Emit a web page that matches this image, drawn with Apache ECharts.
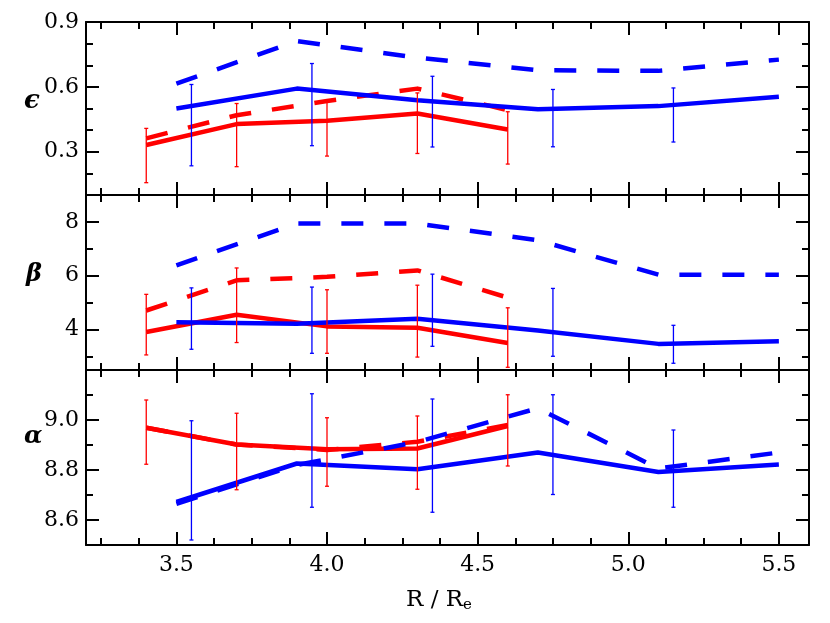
<!DOCTYPE html>
<html>
<head>
<meta charset="utf-8">
<script src="https://cdn.jsdelivr.net/npm/echarts@6/dist/echarts.min.js"></script>
<style>html,body{margin:0;padding:0;background:#fff;}#c{width:830px;height:623px;}</style>
</head>
<body>
<div id="c"></div>
<script>
// ---- data ----
const xRed = [3.4, 3.7, 4.0, 4.3, 4.6];
const xBlue = [3.5, 3.9, 4.3, 4.7, 5.1, 5.5];
const xBlueErr = [3.55, 3.95, 4.35, 4.75, 5.15];

const epsRedSolid = [0.331, 0.428, 0.443, 0.477, 0.403];
const epsRedDashed = [0.362, 0.469, 0.535, 0.592, 0.492];
const epsRedErrLow = [0.157, 0.231, 0.280, 0.292, 0.243];
const epsRedErrHigh = [0.408, 0.523, 0.531, 0.572, 0.485];
const epsBlueSolid = [0.500, 0.592, 0.538, 0.497, 0.511, 0.554];
const epsBlueDashed = [0.615, 0.812, 0.735, 0.677, 0.674, 0.726];
const epsBlueErrLow = [0.235, 0.328, 0.322, 0.323, 0.345];
const epsBlueErrHigh = [0.611, 0.708, 0.649, 0.588, 0.595];

const betaRedSolid = [3.91, 4.55, 4.12, 4.07, 3.50];
const betaRedDashed = [4.71, 5.83, 5.96, 6.20, 5.19];
const betaRedErrLow = [3.06, 3.52, 3.12, 2.98, 2.60];
const betaRedErrHigh = [5.31, 6.29, 5.48, 5.65, 4.81];
const betaBlueSolid = [4.27, 4.22, 4.40, 3.97, 3.47, 3.57];
const betaBlueDashed = [6.39, 7.94, 7.94, 7.32, 6.04, 6.04];
const betaBlueErrLow = [3.27, 3.12, 3.38, 3.01, 2.75];
const betaBlueErrHigh = [5.55, 5.58, 6.06, 5.53, 4.16];

const alphaRedSolid = [8.969, 8.902, 8.883, 8.886, 8.976];
const alphaRedDashed = [8.969, 8.902, 8.880, 8.913, 8.980];
const alphaRedErrLow = [8.823, 8.721, 8.735, 8.723, 8.816];
const alphaRedErrHigh = [9.080, 9.027, 9.009, 9.016, 9.101];
const alphaBlueSolid = [8.672, 8.826, 8.803, 8.870, 8.792, 8.822];
const alphaBlueDashed = [8.665, 8.820, 8.912, 9.047, 8.806, 8.870];
const alphaBlueErrLow = [8.520, 8.651, 8.631, 8.702, 8.651];
const alphaBlueErrHigh = [8.997, 9.105, 9.084, 9.101, 8.960];

// ---- ticks ----
const xMajorTicks = [3.5, 4.0, 4.5, 5.0, 5.5];
const xMinorTicks = [3.25, 3.375, 3.625, 3.75, 3.875, 4.125, 4.25, 4.375, 4.625, 4.75, 4.875, 5.125, 5.25, 5.375];
const epsMajorTicks = [0.3, 0.6, 0.9];
const epsMinorTicks = [0.2, 0.4, 0.5, 0.7, 0.8];
const betaMajorTicks = [4, 6, 8];
const betaMinorTicks = [3, 5, 7];
const alphaMajorTicks = [8.6, 8.8, 9.0];
const alphaMinorTicks = [8.7, 8.9, 9.1];

const RED = '#ff0000', BLUE = '#0000ff';
const FONT = 'DejaVu Serif';
const xMin = 3.2, xMax = 5.6;

const panels = [
  {top: 22, height: 173, ymin: 0.1, ymax: 0.9, major: epsMajorTicks, minor: epsMinorTicks, fmt: v => v.toFixed(1),
   rs: epsRedSolid, rd: epsRedDashed, rl: epsRedErrLow, rh: epsRedErrHigh,
   bs: epsBlueSolid, bd: epsBlueDashed, bl: epsBlueErrLow, bh: epsBlueErrHigh},
  {top: 195, height: 175, ymin: 2.5, ymax: 9, major: betaMajorTicks, minor: betaMinorTicks, fmt: v => String(Math.round(v)),
   rs: betaRedSolid, rd: betaRedDashed, rl: betaRedErrLow, rh: betaRedErrHigh,
   bs: betaBlueSolid, bd: betaBlueDashed, bl: betaBlueErrLow, bh: betaBlueErrHigh},
  {top: 370, height: 175, ymin: 8.5, ymax: 9.2, major: alphaMajorTicks, minor: alphaMinorTicks, fmt: v => v.toFixed(1),
   rs: alphaRedSolid, rd: alphaRedDashed, rl: alphaRedErrLow, rh: alphaRedErrHigh,
   bs: alphaBlueSolid, bd: alphaBlueDashed, bl: alphaBlueErrLow, bh: alphaBlueErrHigh}
];

const grids = [], xAxes = [], yAxes = [], series = [];

function xAx(g, pos, vals, len, showLine, showLabel) {
  return {type: 'value', gridIndex: g, position: pos, min: xMin, max: xMax,
    axisLine: {show: showLine, onZero: false, lineStyle: {color: '#000', width: 2}},
    axisTick: {show: true, inside: true, length: len, customValues: vals, lineStyle: {color: '#000', width: 2}},
    axisLabel: {show: showLabel, customValues: vals, formatter: v => v.toFixed(1), color: '#000',
      fontFamily: FONT, fontSize: 22, margin: 9},
    splitLine: {show: false}};
}
function yAx(g, pos, p, vals, len, showLine, showLabel) {
  return {type: 'value', gridIndex: g, position: pos, min: p.ymin, max: p.ymax,
    axisLine: {show: showLine, onZero: false, lineStyle: {color: '#000', width: 2}},
    axisTick: {show: true, inside: true, length: len, customValues: vals, lineStyle: {color: '#000', width: 2}},
    axisLabel: {show: showLabel, customValues: vals, formatter: p.fmt, color: '#000',
      fontFamily: FONT, fontSize: 22, margin: 7},
    splitLine: {show: false}};
}
function lineSeries(g, xs, ys, color, dashed) {
  return {type: 'line', xAxisIndex: g * 4, yAxisIndex: g * 4, data: xs.map((x, i) => [x, ys[i]]),
    symbol: 'none', silent: true, z: 3,
    lineStyle: {color: color, width: 4.5, type: dashed ? [22, 21] : 'solid', cap: 'butt', join: 'round'}};
}
function errSeries(g, xs, lo, hi, color) {
  return {type: 'custom', xAxisIndex: g * 4, yAxisIndex: g * 4, silent: true, z: 4,
    data: xs.map((x, i) => [x, lo[i], hi[i]]),
    encode: {x: 0, y: [1, 2]},
    renderItem: function (params, api) {
      const x = api.value(0);
      const p1 = api.coord([x, api.value(1)]);
      const p2 = api.coord([x, api.value(2)]);
      const c = 2;
      const st = {stroke: color, lineWidth: 1.3};
      return {type: 'group', children: [
        {type: 'line', shape: {x1: p1[0], y1: p1[1], x2: p2[0], y2: p2[1]}, style: st},
        {type: 'line', shape: {x1: p1[0] - c, y1: p1[1], x2: p1[0] + c, y2: p1[1]}, style: st},
        {type: 'line', shape: {x1: p2[0] - c, y1: p2[1], x2: p2[0] + c, y2: p2[1]}, style: st}
      ]};
    }};
}

panels.forEach((p, g) => {
  grids.push({left: 86, right: 21, top: p.top, height: p.height, containLabel: false});
  const last = g === panels.length - 1;
  xAxes.push(xAx(g, 'bottom', xMajorTicks, 13, true, last));
  xAxes.push(xAx(g, 'bottom', xMinorTicks, 7, false, false));
  xAxes.push(xAx(g, 'top', xMajorTicks, 13, true, false));
  xAxes.push(xAx(g, 'top', xMinorTicks, 7, false, false));
  yAxes.push(yAx(g, 'left', p, p.major, 13, true, true));
  yAxes.push(yAx(g, 'left', p, p.minor, 7, false, false));
  yAxes.push(yAx(g, 'right', p, p.major, 13, true, false));
  yAxes.push(yAx(g, 'right', p, p.minor, 7, false, false));
  series.push(errSeries(g, xRed, p.rl, p.rh, RED));
  series.push(errSeries(g, xBlueErr, p.bl, p.bh, BLUE));
  series.push(lineSeries(g, xRed, p.rd, RED, true));
  series.push(lineSeries(g, xRed, p.rs, RED, false));
  series.push(lineSeries(g, xBlue, p.bd, BLUE, true));
  series.push(lineSeries(g, xBlue, p.bs, BLUE, false));
});

const chart = echarts.init(document.getElementById('c'), null, {renderer: 'canvas'});
chart.setOption({
  animation: false,
  backgroundColor: '#fff',
  grid: grids,
  xAxis: xAxes,
  yAxis: yAxes,
  series: series,
  graphic: [
    {type: 'text', left: 24, top: 88, style: {text: 'ϵ', font: 'italic bold 26px "DejaVu Serif"', fill: '#000'}},
    {type: 'text', left: 26, top: 263, style: {text: 'β', font: 'italic bold 24px "DejaVu Serif"', fill: '#000'}},
    {type: 'text', left: 24, top: 425, style: {text: 'α', font: 'italic bold 24px "DejaVu Serif"', fill: '#000'}},
    {type: 'text', left: 406, top: 589, style: {
      text: '{m|R / R}{s|e}',
      rich: {
        m: {fontFamily: FONT, fontSize: 23, fill: '#000', color: '#000'},
        s: {fontFamily: FONT, fontSize: 15, fill: '#000', color: '#000', padding: [10, 0, 0, 0]}
      }}}
  ]
});
</script>
</body>
</html>
